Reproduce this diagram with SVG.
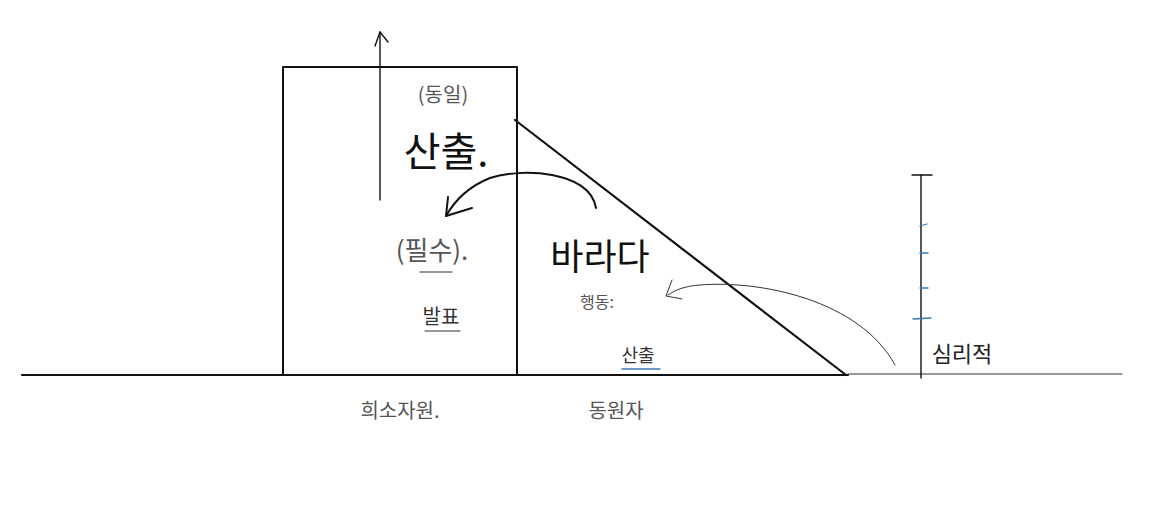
<svg xmlns="http://www.w3.org/2000/svg" width="1152" height="510" viewBox="0 0 1152 510">
<style>
.t{font-family:"Noto Sans CJK KR","Noto Sans",sans-serif;text-anchor:middle}
.ink{stroke:#111;fill:none;stroke-linecap:round;stroke-linejoin:round}
.thin{stroke:#333;fill:none;stroke-width:1;stroke-linecap:round}
.blue{stroke:#3a78b0;fill:none;stroke-width:1.3;stroke-linecap:round}
</style>
<rect width="1152" height="510" fill="#fff"/>
<g id="ground">
<line x1="22" y1="375" x2="848" y2="375" class="ink" stroke-width="2.2"/>
<line x1="848" y1="374" x2="1122" y2="374" class="thin" stroke="#555"/>
</g>
<g id="scarce-box">
<path d="M283 375 V67 H517 V375" class="ink" stroke-width="2"/>
<text x="443" y="102" class="t" font-size="20" fill="#555">(동일)</text>
<text x="446" y="166" class="t" font-size="40" fill="#111">산출.</text>
<text x="432" y="260" class="t" font-size="26" fill="#555">(필수).</text>
<line x1="420" y1="272" x2="452" y2="272" class="thin" stroke="#555"/>
<text x="441" y="324" class="t" font-size="20" fill="#333">발표</text>
<line x1="425" y1="331" x2="460" y2="331" class="thin" stroke="#555"/>
<text x="400" y="418" class="t" font-size="20" fill="#555">희소자원.</text>
</g>
<g id="mobilized-triangle">
<line x1="515" y1="120" x2="846" y2="375" class="ink" stroke-width="2.2"/>
<text x="600" y="270" class="t" font-size="36" fill="#111">바라다</text>
<text x="597" y="308" class="t" font-size="16" fill="#555">행동:</text>
<text x="638" y="362" class="t" font-size="18" fill="#333">산출</text>
<line x1="622" y1="369" x2="660" y2="369" class="blue"/>
<text x="616" y="418" class="t" font-size="20" fill="#555">동원자</text>
</g>
<g id="psych-scale">
<line x1="921" y1="175" x2="921" y2="378" class="ink" stroke-width="1.4"/>
<line x1="912" y1="175" x2="932" y2="175" class="ink" stroke-width="1.4"/>
<path d="M920 226 l7 -2" class="blue"/>
<path d="M920 253 l8 0" class="blue"/>
<path d="M920 288 l8 0" class="blue"/>
<path d="M913 319 l18 -1" class="blue"/>
<text x="962" y="362" class="t" font-size="22" fill="#222">심리적</text>
</g>
<g id="connectors">
<line x1="380" y1="200" x2="380" y2="32" class="ink" stroke-width="1.4"/>
<path d="M375 46 L380 32 L388 42" class="ink" stroke-width="1.4"/>
<path d="M596 208 C590 170 520 168 490 178 C470 186 455 200 446 216" class="ink" stroke-width="2"/>
<path d="M448 197 L446 216 L472 208" class="ink" stroke-width="2"/>
<path d="M895 365 C860 300 760 280 700 285 C685 286 675 290 668 295" class="thin" stroke-width="1.3"/>
<path d="M672 280 L666 296 L682 299" class="thin" stroke-width="1.3"/>
</g>
</svg>
